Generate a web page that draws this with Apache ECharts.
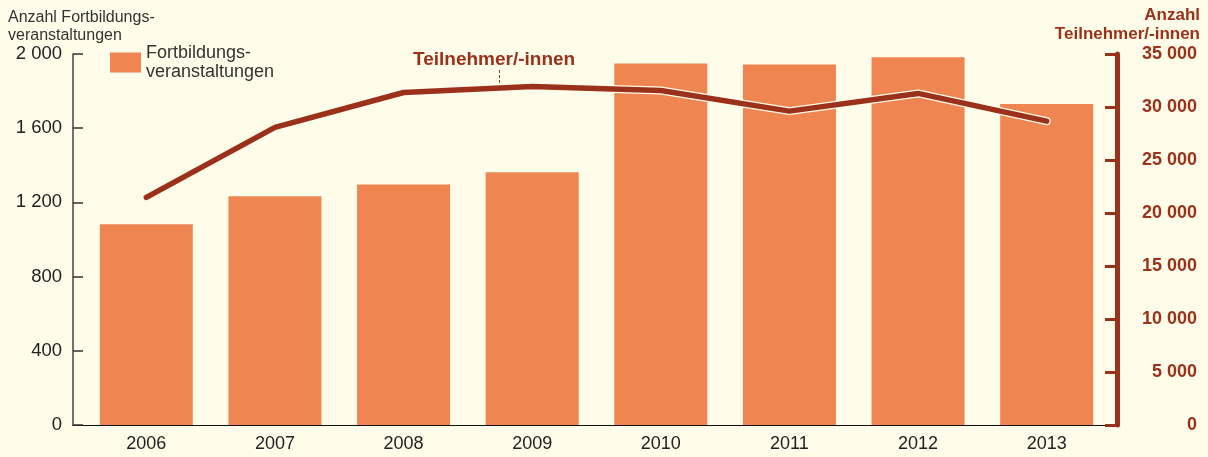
<!DOCTYPE html>
<html>
<head>
<meta charset="utf-8">
<script src="https://cdn.jsdelivr.net/npm/echarts@6/dist/echarts.min.js"></script>
<style>
  html, body { margin: 0; padding: 0; background: #fffce9; }
  #chart { width: 1208px; height: 457px; }
</style>
</head>
<body>
<div id="chart"></div>
<script>
// Jahre
const years = ['2006', '2007', '2008', '2009', '2010', '2011', '2012', '2013'];
// Anzahl Fortbildungsveranstaltungen (linke Achse)
const veranstaltungen = [1082, 1233, 1297, 1362, 1949, 1943, 1983, 1730];
// Anzahl Teilnehmer/-innen (rechte Achse)
const teilnehmer = [21480, 28075, 31370, 31940, 31560, 29610, 31280, 28670];

const red = '#9c311b';
const font = 'Liberation Sans, Arial, sans-serif';
const fmt = (v) => String(v).replace(/\B(?=(\d{3})+(?!\d))/g, ' ');

const chart = echarts.init(document.getElementById('chart'));
const option = {
  backgroundColor: '#fffce9',
  animation: false,
  textStyle: { fontFamily: font },
  title: {
    text: 'Anzahl Fortbildungs-\nveranstaltungen',
    left: 3,
    top: 4,
    textStyle: { fontSize: 16, fontWeight: 'normal', color: '#333', lineHeight: 18 }
  },
  legend: {
    left: 105,
    top: 29,
    itemWidth: 31,
    itemHeight: 20,
    itemGap: 8,
    data: [{ name: 'Fortbildungs-\nveranstaltungen', icon: 'rect' }],
    textStyle: { fontSize: 18, color: '#333', lineHeight: 19, padding: [19, 0, 0, 0] }
  },
  grid: [
    { left: 82, right: 97, top: 54, bottom: 32 },
    { left: 73, right: 91, top: 54, bottom: 32 } // nur für die durchgehende Grundlinie
  ],
  xAxis: [{
    type: 'category',
    data: years,
    axisLine: { show: false },
    axisTick: { show: false },
    axisLabel: { fontSize: 18, color: '#222', margin: 10 }
  }, {
    type: 'value',
    gridIndex: 1,
    min: 0,
    max: 1,
    axisLine: { show: true, lineStyle: { color: '#111', width: 1.2 } },
    axisTick: { show: false },
    axisLabel: { show: false },
    splitLine: { show: false }
  }],
  yAxis: [{
    type: 'value',
    min: 0,
    max: 2000,
    interval: 400,
    offset: 9,
    axisLine: { show: true, lineStyle: { color: '#444', width: 1.5 } },
    axisTick: { show: true, inside: true, length: 10, lineStyle: { color: '#333', width: 1.5 } },
    axisLabel: { fontSize: 18.5, color: '#222', margin: 11, formatter: fmt },
    splitLine: { show: false }
  }, {
    type: 'value',
    position: 'right',
    min: 0,
    max: 35000,
    interval: 5000,
    offset: 6,
    axisLine: { show: true, lineStyle: { color: red, width: 5 } },
    axisTick: { show: true, inside: true, length: 12, lineStyle: { color: red, width: 3 } },
    axisLabel: { fontSize: 18, fontWeight: 'bold', color: red, margin: 80, align: 'right', formatter: fmt },
    splitLine: { show: false }
  }, {
    type: 'value',
    gridIndex: 1,
    show: false
  }],
  series: [{
    name: 'Fortbildungs-\nveranstaltungen',
    type: 'bar',
    data: veranstaltungen,
    barWidth: 93,
    itemStyle: { color: '#ef8550' }
  }, {
    // weiße Kontur unter der Linie
    type: 'line',
    yAxisIndex: 1,
    data: teilnehmer,
    symbol: 'none',
    z: 3,
    silent: true,
    lineStyle: { color: '#fffce9', width: 8, cap: 'round', join: 'round' }
  }, {
    name: 'Teilnehmer/-innen',
    type: 'line',
    yAxisIndex: 1,
    data: teilnehmer,
    symbol: 'none',
    z: 4,
    lineStyle: { color: red, width: 5.5, cap: 'round', join: 'round' }
  }],
  graphic: [{
    // Titel der rechten Achse
    type: 'text',
    x: 1200,
    y: 6,
    style: {
      text: 'Anzahl\nTeilnehmer/-innen',
      align: 'right',
      verticalAlign: 'top',
      lineHeight: 19,
      fontSize: 17,
      fontWeight: 'bold',
      fill: red,
      fontFamily: font
    }
  }, {
    type: 'text',
    left: 413,
    top: 50,
    style: { text: 'Teilnehmer/-innen', fontSize: 19, fontWeight: 'bold', fill: red, fontFamily: font }
  }, {
    type: 'line',
    shape: { x1: 499.5, y1: 70, x2: 499.5, y2: 84 },
    style: { stroke: red, lineWidth: 1, lineDash: [3, 2] }
  }]
};
chart.setOption(option);
</script>
</body>
</html>
